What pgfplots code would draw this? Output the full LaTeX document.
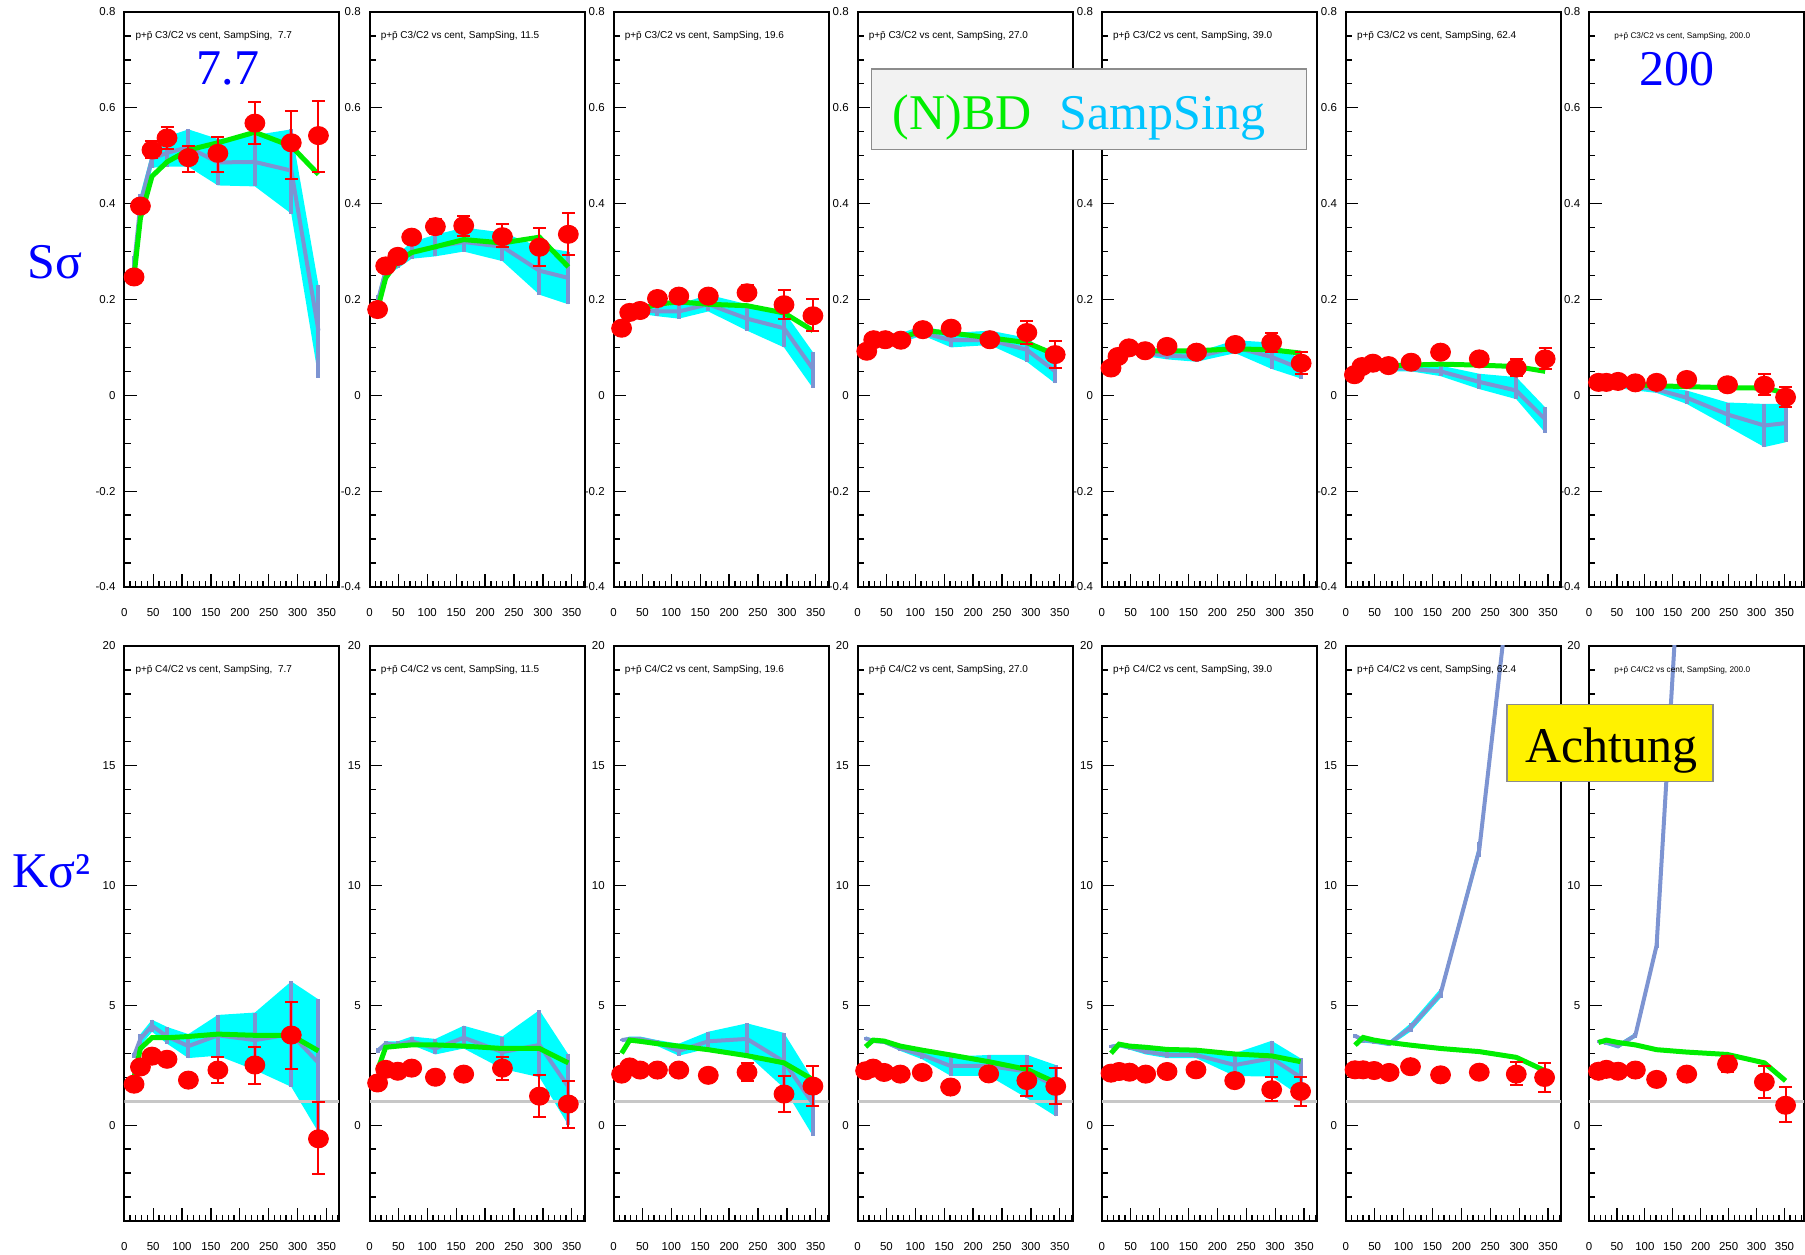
\documentclass[border=0pt]{standalone}
\usepackage{pgfplots}
\pgfplotsset{compat=1.18}
\usepackage{pgfplotstable}
\usepgfplotslibrary{fillbetween}
\usepackage{fontspec}
\setmainfont{Liberation Sans}
\newfontfamily\tms{Liberation Serif}
\definecolor{bandc}{RGB}{0,255,255}
\definecolor{sampc}{RGB}{125,148,210}
\definecolor{nbdc}{RGB}{0,238,0}
\definecolor{datc}{RGB}{255,0,0}
\definecolor{sstext}{RGB}{0,196,255}

% columns: x, data, data low, data high, NBD, SampSing, band low, band high
\pgfplotstableread{
x d dlo dhi g b bl bu
17 0.247 0.247 0.247 0.25 0.27 0.25 0.29
28 0.395 0.395 0.395 0.37 0.40 0.36 0.42
48 0.512 0.495 0.53 0.457 0.494 0.475 0.51
74 0.537 0.515 0.56 0.487 0.506 0.477 0.54
111 0.496 0.465 0.52 0.512 0.518 0.477 0.555
162 0.505 0.467 0.54 0.527 0.486 0.438 0.535
226 0.568 0.525 0.612 0.549 0.487 0.436 0.543
289 0.527 0.452 0.594 0.52 0.469 0.379 0.555
336 0.542 0.467 0.614 0.461 0.135 0.037 0.23
}\tA
\pgfplotstableread{
x d dlo dhi g b bl bu
14 0.179 0.179 0.179 0.18 0.195 0.18 0.21
28 0.270 0.270 0.270 0.245 0.26 0.25 0.275
49 0.290 0.290 0.290 0.28 0.28 0.265 0.295
73 0.330 0.330 0.330 0.298 0.30 0.285 0.32
114 0.352 0.337 0.367 0.31 0.31 0.29 0.335
163 0.354 0.333 0.375 0.325 0.32 0.30 0.35
230 0.331 0.31 0.357 0.318 0.31 0.28 0.34
294 0.309 0.27 0.35 0.33 0.26 0.21 0.31
344 0.336 0.292 0.38 0.268 0.245 0.19 0.30
}\tB
\pgfplotstableread{
x d dlo dhi g b bl bu
14 0.140 0.140 0.140 0.145 0.15 0.14 0.16
28 0.173 0.173 0.173 0.165 0.17 0.16 0.18
46 0.177 0.177 0.177 0.18 0.178 0.17 0.19
76 0.202 0.202 0.202 0.19 0.175 0.165 0.185
113 0.207 0.207 0.207 0.195 0.175 0.16 0.19
164 0.207 0.207 0.207 0.19 0.19 0.175 0.21
231 0.214 0.20 0.23 0.187 0.16 0.135 0.19
295 0.189 0.16 0.22 0.172 0.14 0.10 0.175
345 0.166 0.134 0.20 0.135 0.055 0.015 0.09
}\tC
\pgfplotstableread{
x d dlo dhi g b bl bu
16 0.092 0.092 0.092 0.10 0.10 0.095 0.105
28 0.116 0.116 0.116 0.115 0.115 0.11 0.125
48 0.116 0.116 0.116 0.12 0.12 0.11 0.13
75 0.115 0.115 0.115 0.12 0.12 0.11 0.13
113 0.137 0.137 0.137 0.135 0.13 0.125 0.145
162 0.140 0.140 0.140 0.13 0.115 0.10 0.13
229 0.116 0.116 0.116 0.12 0.115 0.105 0.135
293 0.131 0.107 0.156 0.11 0.095 0.07 0.12
342 0.085 0.056 0.113 0.085 0.05 0.025 0.075
}\tD
\pgfplotstableread{
x d dlo dhi g b bl bu
16 0.057 0.057 0.057 0.06 0.06 0.055 0.065
28 0.081 0.081 0.081 0.08 0.08 0.075 0.085
47 0.099 0.099 0.099 0.09 0.09 0.085 0.095
75 0.093 0.093 0.093 0.093 0.088 0.082 0.095
113 0.102 0.102 0.102 0.093 0.083 0.075 0.092
164 0.090 0.090 0.090 0.093 0.08 0.07 0.09
231 0.106 0.106 0.106 0.097 0.10 0.088 0.115
294 0.110 0.09 0.13 0.095 0.08 0.055 0.11
345 0.067 0.045 0.09 0.088 0.055 0.035 0.075
}\tE
\pgfplotstableread{
x d dlo dhi g b bl bu
15 0.043 0.043 0.043 0.045 0.045 0.04 0.05
28 0.060 0.060 0.060 0.055 0.055 0.05 0.06
47 0.067 0.067 0.067 0.06 0.058 0.052 0.063
74 0.062 0.062 0.062 0.062 0.058 0.05 0.062
113 0.069 0.069 0.069 0.063 0.055 0.05 0.063
164 0.090 0.090 0.090 0.065 0.05 0.04 0.062
231 0.076 0.076 0.076 0.063 0.028 0.013 0.045
295 0.057 0.04 0.075 0.06 0.01 -0.008 0.038
345 0.076 0.055 0.098 0.05 -0.05 -0.078 -0.025
}\tF
\pgfplotstableread{
x d dlo dhi g b bl bu
17 0.027 0.027 0.027 0.025 0.025 0.02 0.03
31 0.027 0.027 0.027 0.025 0.022 0.018 0.027
52 0.029 0.029 0.029 0.025 0.02 0.015 0.025
83 0.026 0.026 0.026 0.022 0.018 0.01 0.025
121 0.027 0.027 0.027 0.02 0.012 0.005 0.02
175 0.033 0.033 0.033 0.018 -0.005 -0.018 0.01
248 0.022 0.022 0.022 0.016 -0.04 -0.065 -0.015
314 0.021 0.0 0.045 0.015 -0.063 -0.108 -0.018
352 -0.004 -0.025 0.018 0.005 -0.058 -0.098 -0.018
}\tG
% bottom row (C4/C2)
\pgfplotstableread{
x d dlo dhi g b bl bu
17 1.71 1.71 1.71 2.0 2.9 2.8 3.0
28 2.43 2.43 2.43 3.2 3.6 3.3 3.8
48 2.88 2.88 2.88 3.65 4.15 3.9 4.4
74 2.75 2.75 2.75 3.65 3.7 3.4 4.1
111 1.88 1.88 1.88 3.7 3.3 2.8 3.8
162 2.30 1.76 2.85 3.8 3.75 2.9 4.6
226 2.51 1.73 3.25 3.75 3.55 2.3 4.7
289 3.76 2.33 5.13 3.75 3.8 1.6 6.0
336 -0.57 -2.05 0.98 3.1 2.6 -0.3 5.25
}\tH
\pgfplotstableread{
x d dlo dhi g b bl bu
14 1.76 1.76 1.76 2.3 3.1 3.0 3.2
28 2.33 2.33 2.33 3.25 3.4 3.3 3.5
49 2.25 2.25 2.25 3.3 3.35 3.25 3.5
73 2.38 2.38 2.38 3.35 3.5 3.35 3.7
114 2.00 2.00 2.00 3.35 3.2 2.95 3.6
163 2.13 2.13 2.13 3.3 3.65 3.2 4.15
230 2.38 1.9 2.85 3.2 3.05 2.35 3.7
294 1.21 0.35 2.1 3.2 3.35 2.0 4.8
344 0.88 -0.1 1.85 2.6 1.6 0.0 2.95
}\tI
\pgfplotstableread{
x d dlo dhi g b bl bu
14 2.13 2.13 2.13 3.0 3.55 3.5 3.6
28 2.43 2.43 2.43 3.55 3.6 3.5 3.7
46 2.30 2.30 2.30 3.5 3.6 3.45 3.7
76 2.30 2.30 2.30 3.4 3.45 3.3 3.55
113 2.30 2.30 2.30 3.3 3.1 2.9 3.4
164 2.08 2.08 2.08 3.15 3.5 3.2 3.9
231 2.21 1.85 2.6 2.9 3.6 2.95 4.25
295 1.30 0.55 2.05 2.6 2.65 1.55 3.85
345 1.63 0.8 2.45 1.9 0.9 -0.45 1.9
}\tJ
\pgfplotstableread{
x d dlo dhi g b bl bu
14 2.27 2.27 2.27 3.27 3.62 3.55 3.7
27 2.38 2.38 2.38 3.55 3.51 3.45 3.6
46 2.20 2.20 2.20 3.51 3.48 3.4 3.55
74 2.13 2.13 2.13 3.3 3.2 3.1 3.35
112 2.20 2.20 2.20 3.13 2.93 2.75 3.05
161 1.59 1.59 1.59 2.93 2.47 2.06 2.86
227 2.14 2.14 2.14 2.65 2.47 2.06 2.93
293 1.86 1.23 2.47 2.33 2.24 1.13 2.93
343 1.62 0.90 2.38 1.78 1.62 0.37 2.51
}\tK
\pgfplotstableread{
x d dlo dhi g b bl bu
16 2.17 2.17 2.17 3.0 3.27 3.2 3.35
30 2.24 2.24 2.24 3.38 3.34 3.25 3.4
48 2.21 2.21 2.21 3.3 3.25 3.15 3.35
76 2.13 2.13 2.13 3.25 3.07 2.95 3.2
113 2.24 2.24 2.24 3.16 2.93 2.8 3.1
163 2.31 2.31 2.31 3.13 2.93 2.8 3.15
230 1.86 1.86 1.86 2.97 2.51 2.05 3.0
294 1.48 0.99 2.03 2.89 2.79 2.03 3.52
344 1.41 0.81 2.03 2.65 2.0 1.2 2.79
}\tL
\pgfplotstableread{
x d dlo dhi g b bl bu
16 2.31 2.31 2.31 3.34 3.73 3.65 3.8
30 2.31 2.31 2.31 3.66 3.55 3.45 3.65
49 2.28 2.28 2.28 3.55 3.5 3.4 3.6
75 2.20 2.20 2.20 3.45 3.4 3.3 3.5
112 2.44 2.44 2.44 3.34 4.07 3.9 4.25
164 2.10 2.10 2.10 3.2 5.48 5.3 5.7
231 2.21 2.21 2.21 3.07 11.5 11.2 11.8
295 2.13 1.69 2.65 2.83 25 24.5 25.5
344 1.99 1.37 2.58 2.28 60 59 61
}\tM
\pgfplotstableread{
x d dlo dhi g b bl bu
17 2.25 2.25 2.25 3.45 3.5 3.45 3.55
31 2.33 2.33 2.33 3.55 3.45 3.35 3.55
52 2.25 2.25 2.25 3.45 3.3 3.2 3.4
83 2.30 2.30 2.30 3.35 3.75 3.65 3.85
121 1.91 1.91 1.91 3.15 7.5 7.4 7.6
175 2.13 2.13 2.13 3.05 28.7 28.5 28.9
248 2.55 2.2 2.9 2.95 60 59 61
314 1.80 1.15 2.45 2.6 100 99 101
352 0.83 0.15 1.6 1.85 150 149 151
}\tN

\pgfplotsset{
  panel/.style={
    scale only axis, width=86pt, height=230pt, anchor=south west,
    xmin=0, xmax=372,
    axis line style={line width=0.8pt},
    every tick/.style={black, line width=0.5pt},
    tick align=inside,
    xtick pos=left, ytick pos=left,
    xtick={0,50,...,350},
    minor xtick={10,20,...,380},
    major tick length=5pt, minor tick length=2.5pt,
    ticklabel style={font=\fontsize{4.6}{5}\selectfont},
    /pgf/number format/assume math mode=true,
    xticklabel style={yshift=-5pt},
  },
  toprow/.style={panel, ymin=-0.4, ymax=0.8,
    ytick={-0.4,-0.2,0,0.2,0.4,0.6,0.8}, minor y tick num=3},
  botrow/.style={panel, ymin=-4, ymax=20,
    ytick={0,5,10,15,20}, minor ytick={-3,-2,...,19}},
}

\newcommand{\panelcontent}[2]{%
  \addplot[name path=U, draw=none, forget plot] table[x=x,y=bu]{#1};
  \addplot[name path=L, draw=none, forget plot] table[x=x,y=bl]{#1};
  \addplot[bandc, draw=none] fill between[of=U and L];
  #2
  \addplot[sampc, line width=1.6pt, mark=none,
    error bars/.cd, y dir=both, y explicit,
    error bar style={sampc, line width=1.6pt}, error mark=none]
    table[x=x, y=b, y error plus expr=\thisrow{bu}-\thisrow{b},
          y error minus expr=\thisrow{b}-\thisrow{bl}]{#1};
  \addplot[nbdc, line width=2pt, mark=none] table[x=x,y=g]{#1};
  \addplot[datc, only marks, mark=*, mark size=3.6pt,
    mark options={fill=datc, draw=datc, xscale=1.1},
    error bars/.cd, y dir=both, y explicit,
    error bar style={datc, line width=0.8pt},
    error mark options={datc, rotate=90, mark size=2.6pt, line width=0.8pt}]
    table[x=x, y=d, y error plus expr=\thisrow{dhi}-\thisrow{d},
          y error minus expr=\thisrow{d}-\thisrow{dlo}]{#1};
}
\newcommand{\pbar}{p+\=p}

\begin{document}
\begin{tikzpicture}

% ---------- top row ----------
\begin{axis}[toprow, at={(49.7pt,267.2pt)}]
\panelcontent{\tA}{}
\node[anchor=west, inner sep=0pt, font=\fontsize{4}{4.5}\selectfont] at (rel axis cs:0.05,0.958) {\pbar\ C3/C2 vs cent, SampSing, \ 7.7};
\end{axis}
\begin{axis}[toprow, at={(147.8pt,267.2pt)}]
\panelcontent{\tB}{}
\node[anchor=west, inner sep=0pt, font=\fontsize{4}{4.5}\selectfont] at (rel axis cs:0.05,0.958) {\pbar\ C3/C2 vs cent, SampSing, 11.5};
\end{axis}
\begin{axis}[toprow, at={(245.4pt,267.2pt)}]
\panelcontent{\tC}{}
\node[anchor=west, inner sep=0pt, font=\fontsize{4}{4.5}\selectfont] at (rel axis cs:0.05,0.958) {\pbar\ C3/C2 vs cent, SampSing, 19.6};
\end{axis}
\begin{axis}[toprow, at={(343.0pt,267.2pt)}]
\panelcontent{\tD}{}
\node[anchor=west, inner sep=0pt, font=\fontsize{4}{4.5}\selectfont] at (rel axis cs:0.05,0.958) {\pbar\ C3/C2 vs cent, SampSing, 27.0};
\end{axis}
\begin{axis}[toprow, at={(440.7pt,267.2pt)}]
\panelcontent{\tE}{}
\node[anchor=west, inner sep=0pt, font=\fontsize{4}{4.5}\selectfont] at (rel axis cs:0.05,0.958) {\pbar\ C3/C2 vs cent, SampSing, 39.0};
\end{axis}
\begin{axis}[toprow, at={(538.3pt,267.2pt)}]
\panelcontent{\tF}{}
\node[anchor=west, inner sep=0pt, font=\fontsize{4}{4.5}\selectfont] at (rel axis cs:0.05,0.958) {\pbar\ C3/C2 vs cent, SampSing, 62.4};
\end{axis}
\begin{axis}[toprow, xmax=385, at={(635.6pt,267.2pt)}]
\panelcontent{\tG}{}
\node[anchor=west, inner sep=0pt, font=\fontsize{3.3}{4}\selectfont] at (rel axis cs:0.115,0.958) {\pbar\ C3/C2 vs cent, SampSing, 200.0};
\end{axis}

% ---------- bottom row ----------
\begin{axis}[botrow, at={(49.7pt,13.6pt)}]
\panelcontent{\tH}{\addplot[black!22, line width=1.2pt] coordinates {(0,1) (372,1)};}
\node[anchor=west, inner sep=0pt, font=\fontsize{4}{4.5}\selectfont] at (rel axis cs:0.05,0.958) {\pbar\ C4/C2 vs cent, SampSing, \ 7.7};
\end{axis}
\begin{axis}[botrow, at={(147.8pt,13.6pt)}]
\panelcontent{\tI}{\addplot[black!22, line width=1.2pt] coordinates {(0,1) (372,1)};}
\node[anchor=west, inner sep=0pt, font=\fontsize{4}{4.5}\selectfont] at (rel axis cs:0.05,0.958) {\pbar\ C4/C2 vs cent, SampSing, 11.5};
\end{axis}
\begin{axis}[botrow, at={(245.4pt,13.6pt)}]
\panelcontent{\tJ}{\addplot[black!22, line width=1.2pt] coordinates {(0,1) (372,1)};}
\node[anchor=west, inner sep=0pt, font=\fontsize{4}{4.5}\selectfont] at (rel axis cs:0.05,0.958) {\pbar\ C4/C2 vs cent, SampSing, 19.6};
\end{axis}
\begin{axis}[botrow, at={(343.0pt,13.6pt)}]
\panelcontent{\tK}{\addplot[black!22, line width=1.2pt] coordinates {(0,1) (372,1)};}
\node[anchor=west, inner sep=0pt, font=\fontsize{4}{4.5}\selectfont] at (rel axis cs:0.05,0.958) {\pbar\ C4/C2 vs cent, SampSing, 27.0};
\end{axis}
\begin{axis}[botrow, at={(440.7pt,13.6pt)}]
\panelcontent{\tL}{\addplot[black!22, line width=1.2pt] coordinates {(0,1) (372,1)};}
\node[anchor=west, inner sep=0pt, font=\fontsize{4}{4.5}\selectfont] at (rel axis cs:0.05,0.958) {\pbar\ C4/C2 vs cent, SampSing, 39.0};
\end{axis}
\begin{axis}[botrow, at={(538.3pt,13.6pt)}]
\panelcontent{\tM}{\addplot[black!22, line width=1.2pt] coordinates {(0,1) (372,1)};}
\node[anchor=west, inner sep=0pt, font=\fontsize{4}{4.5}\selectfont] at (rel axis cs:0.05,0.958) {\pbar\ C4/C2 vs cent, SampSing, 62.4};
\end{axis}
\begin{axis}[botrow, xmax=385, at={(635.6pt,13.6pt)}]
\panelcontent{\tN}{\addplot[black!22, line width=1.2pt] coordinates {(0,1) (385,1)};}
\node[anchor=west, inner sep=0pt, font=\fontsize{3.3}{4}\selectfont] at (rel axis cs:0.115,0.958) {\pbar\ C4/C2 vs cent, SampSing, 200.0};
\end{axis}

% ---------- annotations ----------
\node[text=blue, font=\tms\fontsize{20}{24}\selectfont] at (22.1pt,397pt) {Sσ};
\node[text=blue, font=\tms\fontsize{20}{24}\selectfont] at (20.7pt,153.4pt) {Kσ²};
\node[text=blue, font=\tms\fontsize{20}{24}\selectfont] at (91.2pt,474.4pt) {7.7};
\node[text=blue, font=\tms\fontsize{20}{24}\selectfont] at (670.9pt,474.4pt) {200};

\draw[draw=black!45, line width=0.6pt, fill=black!5] (348.6pt,442.1pt) rectangle (522.6pt,474.4pt);
\node[anchor=base west, inner sep=0pt, text=nbdc, font=\tms\fontsize{20}{24}\selectfont] at (356.9pt,450.2pt) {(N)BD};
\node[anchor=base west, inner sep=0pt, text=sstext, font=\tms\fontsize{20}{24}\selectfont] at (423.6pt,450.2pt) {SampSing};

\draw[draw=black!45, line width=0.6pt, fill=yellow] (602.8pt,189.4pt) rectangle (685.2pt,220.2pt);
\node[anchor=base west, inner sep=0pt, text=black, font=\tms\fontsize{20}{24}\selectfont] at (610pt,197pt) {Achtung};

\pgfresetboundingbox
\path[use as bounding box] (0pt,0pt) rectangle (722pt,502pt);
\end{tikzpicture}
\end{document}
